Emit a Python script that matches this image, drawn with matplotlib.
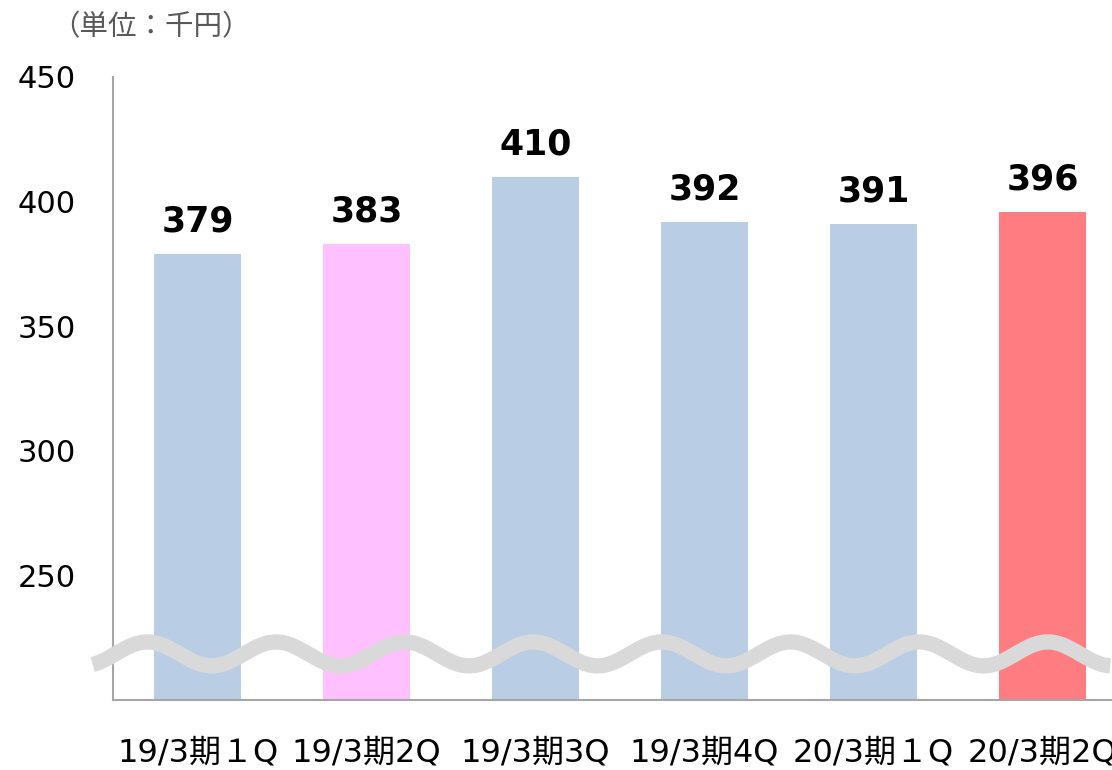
import numpy as np
import matplotlib.pyplot as plt

plt.rcParams['font.family'] = ['DejaVu Sans', 'Noto Sans CJK JP']

categories = ["19/3期１Q", "19/3期2Q", "19/3期3Q", "19/3期4Q", "20/3期１Q", "20/3期2Q"]
values = [379, 383, 410, 392, 391, 396]
colors = ["#B9CDE5", "#FFC0FF", "#B9CDE5", "#B9CDE5", "#B9CDE5", "#FF7C80"]
yticks = [250, 300, 350, 400, 450]

fig = plt.figure(figsize=(11.12, 7.7), dpi=100)
ax = fig.add_axes([113 / 1112, 70 / 770, 1 - 113 / 1112, 623 / 770])

x = np.arange(len(categories))
ax.bar(x, values, width=0.52, color=colors, zorder=2)

for xi, v in zip(x, values):
    ax.annotate(str(v), (xi, v), xytext=(0, 11), textcoords="offset points",
                ha="center", va="bottom", fontsize=25, fontweight="bold")

# axis break wave (decoration)
wx = np.linspace(-0.62, 5.40, 400)
wy = 218.5 + 4.8 * np.cos(2 * np.pi * (wx + 0.296) / 0.761)
ax.plot(wx, wy, color="#D9D9D9", lw=11, solid_capstyle="butt", zorder=3, clip_on=False)

ax.set_xlim(-0.5, 5.411)
ax.set_ylim(200, 450)
ax.set_yticks(yticks)
ax.set_yticklabels([str(t) for t in yticks], fontsize=22)
ax.set_xticks(x)
ax.set_xticklabels(categories, fontsize=23)
ax.tick_params(axis="y", length=0, pad=27)
ax.tick_params(axis="x", length=0, pad=27)

for s in ["top", "right"]:
    ax.spines[s].set_visible(False)
for s in ["left", "bottom"]:
    ax.spines[s].set_color("#A6A6A6")
    ax.spines[s].set_linewidth(1.5)

fig.text(51 / 1112, 1 - 27 / 770, "（単位：千円）", fontsize=20.5, color="#595959",
         ha="left", va="center", family=["Noto Sans CJK JP", "DejaVu Sans"])

fig.savefig("out.png", dpi=100)
